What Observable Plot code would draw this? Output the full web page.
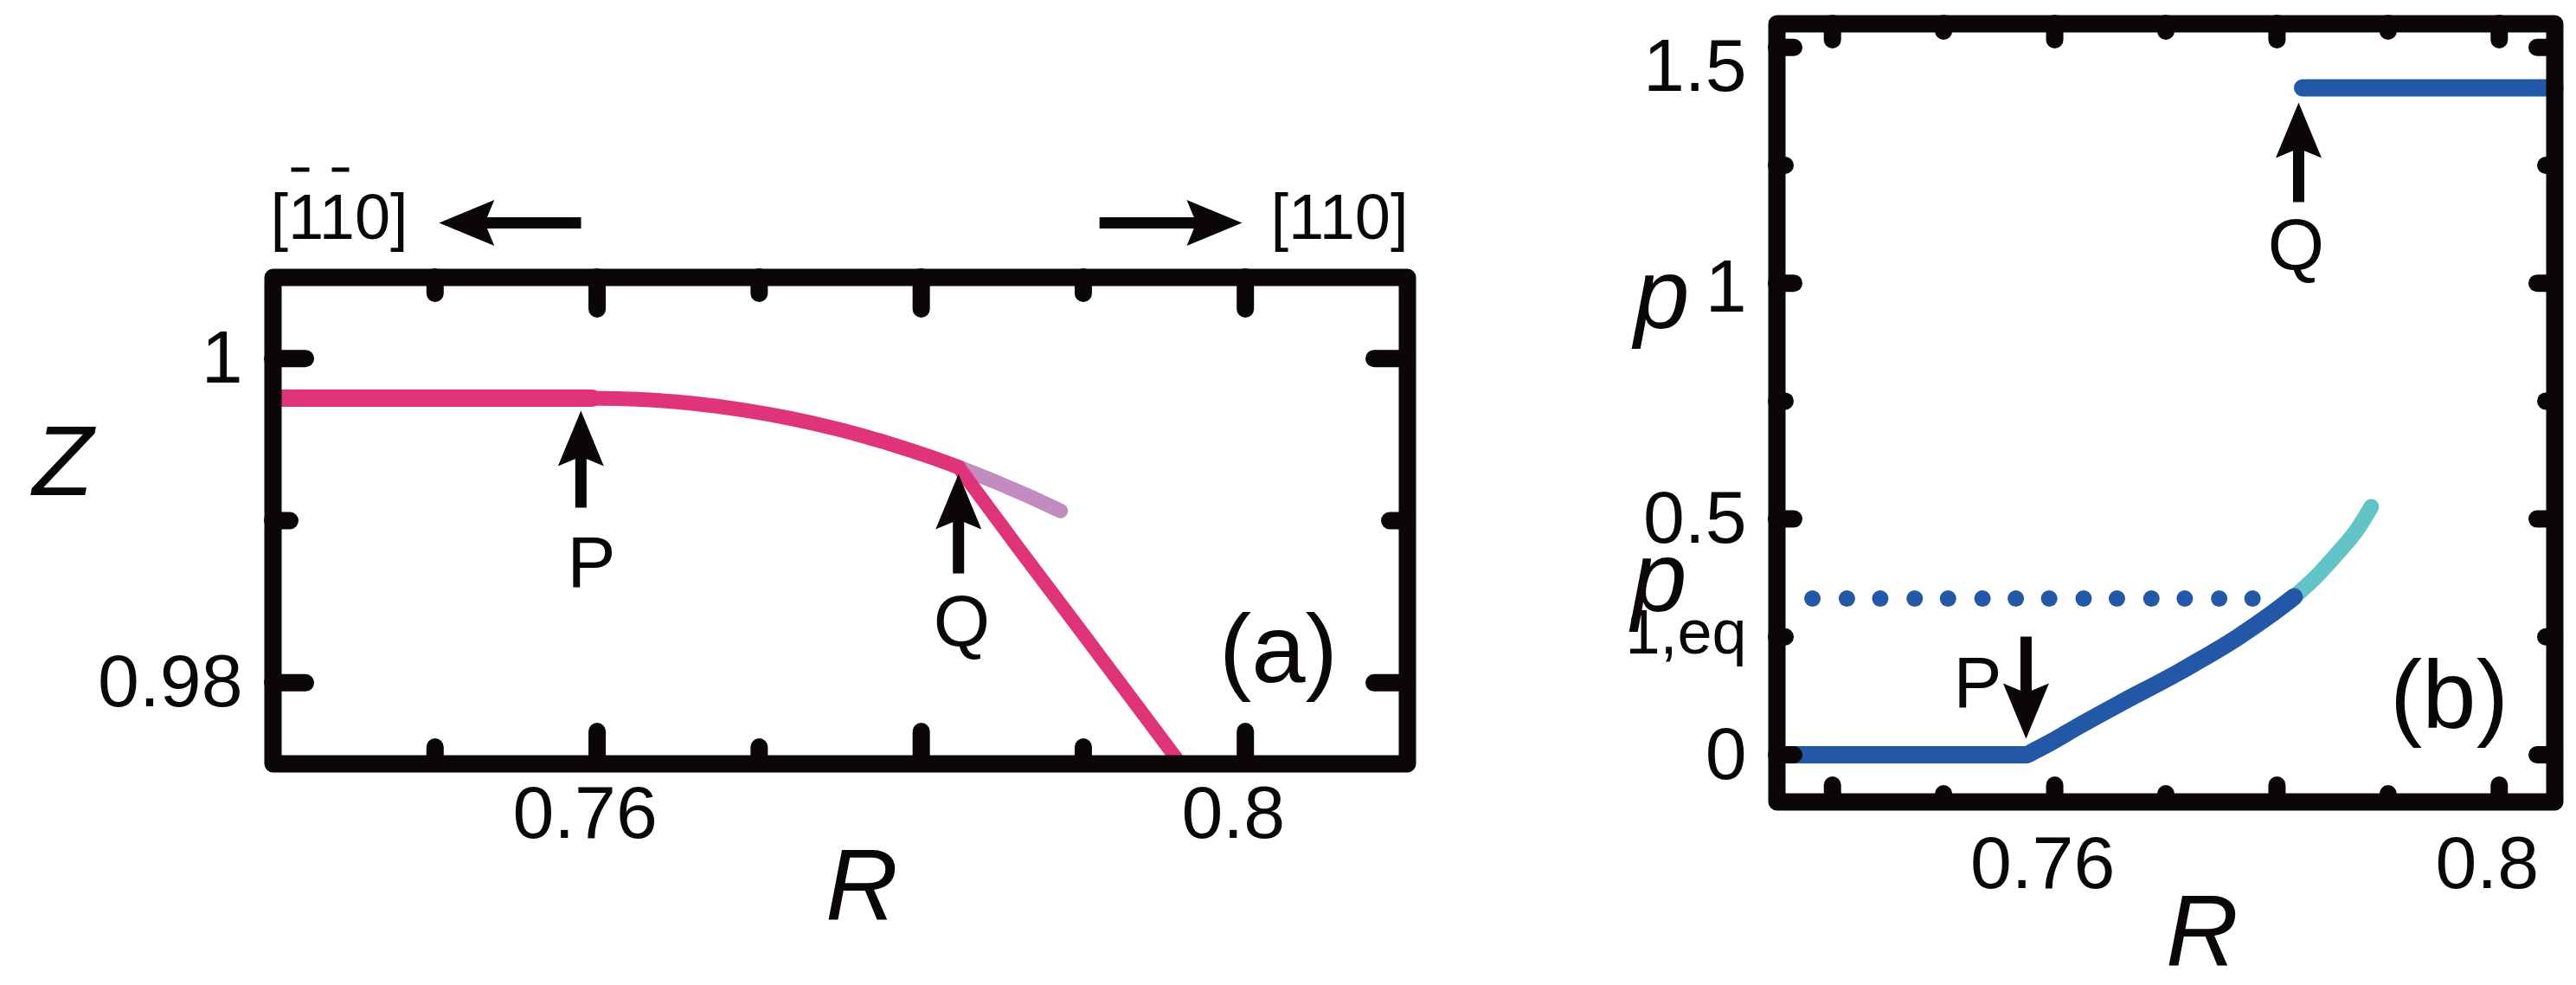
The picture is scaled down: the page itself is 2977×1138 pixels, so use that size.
<!DOCTYPE html>
<html><head><meta charset="utf-8">
<script src="https://cdn.jsdelivr.net/npm/d3@7"></script>
<script src="https://cdn.jsdelivr.net/npm/@observablehq/plot@0.6"></script>
<style>
html,body{margin:0;padding:0;background:#fff;}
#wrap{position:relative;width:2977px;height:1138px;overflow:hidden;background:#fff;}
#wrap svg{position:absolute;top:0;overflow:visible;max-width:none;}
</style></head><body><div id="wrap"></div>
<script>
// ---------------- panel (a) data ----------------
const aR_flat = [0.740, 0.7597];
const aZ_flat = [0.99755, 0.99755];
const aR_curve = [0.7597, 0.763, 0.766, 0.769, 0.772, 0.775, 0.778, 0.7805, 0.7823];
const aZ_curve = [0.99755, 0.99746, 0.99722, 0.99683, 0.99629, 0.99560, 0.99476, 0.99395, 0.9933];
const aR_steep = [0.7823, 0.7860, 0.7900, 0.7960];
const aZ_steep = [0.9933, 0.9883, 0.9830, 0.9750];
const aR_meta = [0.7823, 0.7845, 0.7865, 0.7886];
const aZ_meta = [0.9933, 0.99243, 0.99157, 0.9906];
const aXMajor = [0.76, 0.78, 0.80], aXMinor = [0.75, 0.77, 0.79];
const aYMajor = [0.98, 1.0], aYMinor = [0.99];
const aXLabels = [0.76, 0.8], aYLabels = [0.98, 1];
// point arrows P, Q (up)
const aArrowR = [0.7590, 0.7823], aArrowTail = [0.9908, 0.98674], aArrowTip = [0.99678, 0.99288];
const aPtLabels = ["P", "Q"], aPtR = [0.75965, 0.7825], aPtZ = [0.98589, 0.98226];
// crystal directions on top
const dirTailR = [0.75901, 0.7910], dirTipR = [0.75024, 0.7998], dirZ = 1.00836;
const dirLabels = ["[110]", "[110]"], dirLabelR = [0.73984, 0.80156], dirLabelZ = 1.0074;
// overbars (negative indices) of the left label
const barR1 = [0.741121, 0.743631], barR2 = [0.742243, 0.744699], barZ = 1.011646;

// ---------------- panel (b) data ----------------
const bR_low = [0.735, 0.7574, 0.75813, 0.7596, 0.76202, 0.76583, 0.77116, 0.77649, 0.77915, 0.78155];
const bP_low = [0, 0, 0.008, 0.026, 0.059, 0.1083, 0.1751, 0.2496, 0.2924, 0.3350];
const bR_cyan = [0.78155, 0.78342, 0.78528, 0.78714, 0.78848];
const bP_cyan = [0.3350, 0.375, 0.4229, 0.475, 0.5257];
const bR_high = [0.7823, 0.805];
const bP_high = [1.4141, 1.4141];
const bR_eq = [0.7382, 0.7413, 0.7443, 0.7474, 0.7504, 0.7535, 0.7565, 0.7595, 0.7626, 0.7656, 0.7687, 0.7717, 0.7748, 0.7778];
const pEq = 0.3313;
const bXMajor = [0.74, 0.76, 0.78, 0.80], bXMinor = [0.75, 0.77, 0.79];
const bYMajor = [0, 0.5, 1, 1.5], bYMinor = [0.25, 0.75, 1.25];
const bXLabels = [0.76, 0.8];
const bPArrowR = [0.75742], bPArrowTail = [0.2506], bPArrowTip = [0.0340];
const bQArrowR = [0.78195], bQArrowTail = [1.172], bQArrowTip = [1.383];
const bPtLabels = ["P", "Q"], bPtR = [0.75306, 0.78172], bPtP = [0.1001, 1.0288];

// ---------------- styles ----------------
const FONT = '"Liberation Sans", Arial, Helvetica, sans-serif';
const INK = "#0a0706";
const PINK = "#e0347a", MAUVE = "#c38cc0", BLUE = "#2358a6", CYAN = "#62c4c6";

function head(dx, dy) {
  const L = 64, N = 53, Wd = 26.5, px = -dy, py = dx;
  return {draw(c) {
    c.moveTo(0, 0);
    c.lineTo(-dx * L + px * Wd, -dy * L + py * Wd);
    c.lineTo(-dx * N, -dy * N);
    c.lineTo(-dx * L - px * Wd, -dy * L - py * Wd);
    c.closePath();
  }};
}
const HEAD_UP = head(0, -1), HEAD_DOWN = head(0, 1), HEAD_LEFT = head(-1, 0), HEAD_RIGHT = head(1, 0);

function arrows(x1, y1, x2, y2, sym) {
  const idx = d3.range(x1.length);
  return [
    Plot.arrow(idx, {x1: i => x1[i], y1: i => y1[i], x2: i => x2[i], y2: i => y2[i],
      stroke: INK, strokeWidth: 13, headLength: 0, insetEnd: 50, strokeLinecap: "butt"}),
    Plot.dot(idx, {x: i => x2[i], y: i => y2[i], symbol: sym, fill: INK, stroke: "none", r: 10})
  ];
}

function tickMarks(xMaj, xMin, yMaj, yMin, Lx, lx, Ly, ly, W, H) {
  const o = {stroke: INK, strokeWidth: 20, strokeLinecap: "round"};
  return [
    Plot.ruleX(xMaj, {...o, insetBottom: H - Lx}),
    Plot.ruleX(xMaj, {...o, insetTop: H - Lx}),
    Plot.ruleX(xMin, {...o, insetBottom: H - lx}),
    Plot.ruleX(xMin, {...o, insetTop: H - lx}),
    Plot.ruleY(yMaj, {...o, insetRight: W - Ly}),
    Plot.ruleY(yMaj, {...o, insetLeft: W - Ly}),
    Plot.ruleY(yMin, {...o, insetRight: W - ly}),
    Plot.ruleY(yMin, {...o, insetLeft: W - ly})
  ];
}
const idxOf = a => d3.range(a.length);

// ---------------- panel (a) ----------------
const A = {width: 1700, height: 1138, ml: 315, mr: 74, mt: 320, mb: 256};
const AW = A.width - A.ml - A.mr, AH = A.height - A.mt - A.mb;
const plotA = Plot.plot({
  width: A.width, height: A.height,
  marginLeft: A.ml, marginRight: A.mr, marginTop: A.mt, marginBottom: A.mb,
  x: {domain: [0.74, 0.81], axis: null, label: null},
  y: {domain: [0.975, 1.005], axis: null, label: null},
  style: {fontFamily: FONT, color: INK, background: "transparent", overflow: "visible"},
  marks: [
    Plot.line(idxOf(aR_meta), {x: i => aR_meta[i], y: i => aZ_meta[i], stroke: MAUVE, strokeWidth: 17, strokeLinecap: "round"}),
    Plot.line(idxOf(aR_flat), {x: i => aR_flat[i], y: i => aZ_flat[i], stroke: PINK, strokeWidth: 20, clip: true}),
    Plot.line(idxOf(aR_curve), {x: i => aR_curve[i], y: i => aZ_curve[i], stroke: PINK, strokeWidth: 17, strokeLinecap: "round", curve: "monotone-x"}),
    Plot.line(idxOf(aR_steep), {x: i => aR_steep[i], y: i => aZ_steep[i], stroke: PINK, strokeWidth: 16, strokeLinecap: "round", clip: true}),
    Plot.frame({stroke: INK, strokeWidth: 20, strokeLinejoin: "round"}),
    ...tickMarks(aXMajor, aXMinor, aYMajor, aYMinor, 37, 19, 38, 20, AW, AH),
    Plot.axisX({ticks: aXLabels, tickSize: 0, tickPadding: 24, fontSize: 86, dx: -14, tickFormat: d => String(d), label: null}),
    Plot.axisY({ticks: aYLabels, tickSize: 0, tickPadding: 35, fontSize: 86, tickFormat: d => String(d), label: null}),
    ...arrows(aArrowR, aArrowTail, aArrowR, aArrowTip, HEAD_UP),
    ...arrows([dirTailR[0]], [dirZ], [dirTipR[0]], [dirZ], HEAD_LEFT),
    ...arrows([dirTailR[1]], [dirZ], [dirTipR[1]], [dirZ], HEAD_RIGHT),
    Plot.text(aPtLabels, {x: aPtR, y: aPtZ, fontSize: 84, lineAnchor: "bottom", fill: INK}),
    Plot.text(dirLabels, {x: dirLabelR, y: [dirLabelZ, dirLabelZ], fontSize: 74, textAnchor: "start", lineAnchor: "bottom", fill: INK}),
    Plot.link(idxOf(barR1), {x1: i => barR1[i], x2: i => barR2[i], y1: () => barZ, y2: () => barZ, stroke: INK, strokeWidth: 5}),
    Plot.text(["(a)"], {x: [0.80204], y: [0.98002], fontSize: 112, lineAnchor: "bottom", fill: INK}),
    Plot.text(["Z"], {frameAnchor: "left", dx: -278, dy: -30, lineAnchor: "bottom", fontSize: 115, fontStyle: "italic", fill: INK}),
    Plot.text(["R"], {frameAnchor: "bottom", dx: 25, dy: 179, lineAnchor: "bottom", fontSize: 116, fontStyle: "italic", fill: INK})
  ]
});
plotA.style.left = "0px";

// ---------------- panel (b) ----------------
const B = {left: 1750, width: 1227, height: 1138, ml: 303, mr: 25, mt: 27, mb: 212};
const BW = B.width - B.ml - B.mr, BH = B.height - B.mt - B.mb;
const plotB = Plot.plot({
  width: B.width, height: B.height,
  marginLeft: B.ml, marginRight: B.mr, marginTop: B.mt, marginBottom: B.mb,
  x: {domain: [0.735, 0.805], axis: null, label: null},
  y: {domain: [-0.1, 1.55], axis: null, label: null},
  style: {fontFamily: FONT, color: INK, background: "transparent", overflow: "visible"},
  marks: [
    Plot.dot(bR_eq, {x: d => d, y: () => pEq, r: 9.5, fill: BLUE, stroke: "none"}),
    Plot.line(idxOf(bR_cyan), {x: i => bR_cyan[i], y: i => bP_cyan[i], stroke: CYAN, strokeWidth: 18, strokeLinecap: "round", curve: "monotone-x"}),
    Plot.line(idxOf(bR_low), {x: i => bR_low[i], y: i => bP_low[i], stroke: BLUE, strokeWidth: 20, strokeLinecap: "round", curve: "monotone-x"}),
    Plot.line(idxOf(bR_high), {x: i => bR_high[i], y: i => bP_high[i], stroke: BLUE, strokeWidth: 20, strokeLinecap: "round"}),
    Plot.frame({stroke: INK, strokeWidth: 20, strokeLinejoin: "round"}),
    ...tickMarks(bXMajor, bXMinor, bYMajor, bYMinor, 19, 9, 20, 10, BW, BH),
    Plot.axisX({ticks: bXLabels, tickSize: 0, tickPadding: 38, fontSize: 86, dx: -14, tickFormat: d => String(d), label: null}),
    Plot.axisY({ticks: [0, 0.5], tickSize: 0, tickPadding: 35, fontSize: 86, tickFormat: d => String(d), label: null}),
    Plot.axisY({ticks: [1], tickSize: 0, tickPadding: 35, fontSize: 86, dy: 5, tickFormat: d => String(d), label: null}),
    Plot.axisY({ticks: [1.5], tickSize: 0, tickPadding: 35, fontSize: 86, dy: 23, tickFormat: d => String(d), label: null}),
    ...arrows(bPArrowR, bPArrowTail, bPArrowR, bPArrowTip, HEAD_DOWN),
    ...arrows(bQArrowR, bQArrowTail, bQArrowR, bQArrowTip, HEAD_UP),
    Plot.text(bPtLabels, {x: bPtR, y: bPtP, fontSize: 84, lineAnchor: "bottom", fill: INK}),
    Plot.text(["(b)"], {x: [0.7955], y: [0.0578], fontSize: 112, lineAnchor: "bottom", fill: INK}),
    Plot.text(["p"], {y: [0.904], frameAnchor: "left", dx: -165, lineAnchor: "bottom", fontSize: 115, fontStyle: "italic", fill: INK}),
    Plot.text(["p"], {y: [0.305], frameAnchor: "left", dx: -168, lineAnchor: "bottom", fontSize: 115, fontStyle: "italic", fill: INK}),
    Plot.text(["1,eq"], {y: [0.215], frameAnchor: "left", dx: -175, textAnchor: "start", lineAnchor: "bottom", fontSize: 72, fill: INK}),
    Plot.text(["R"], {frameAnchor: "bottom", dx: 42, dy: 188, lineAnchor: "bottom", fontSize: 116, fontStyle: "italic", fill: INK})
  ]
});
plotB.style.left = B.left + "px";

const wrap = document.getElementById("wrap");
wrap.appendChild(plotA);
wrap.appendChild(plotB);
</script>
</body></html>
